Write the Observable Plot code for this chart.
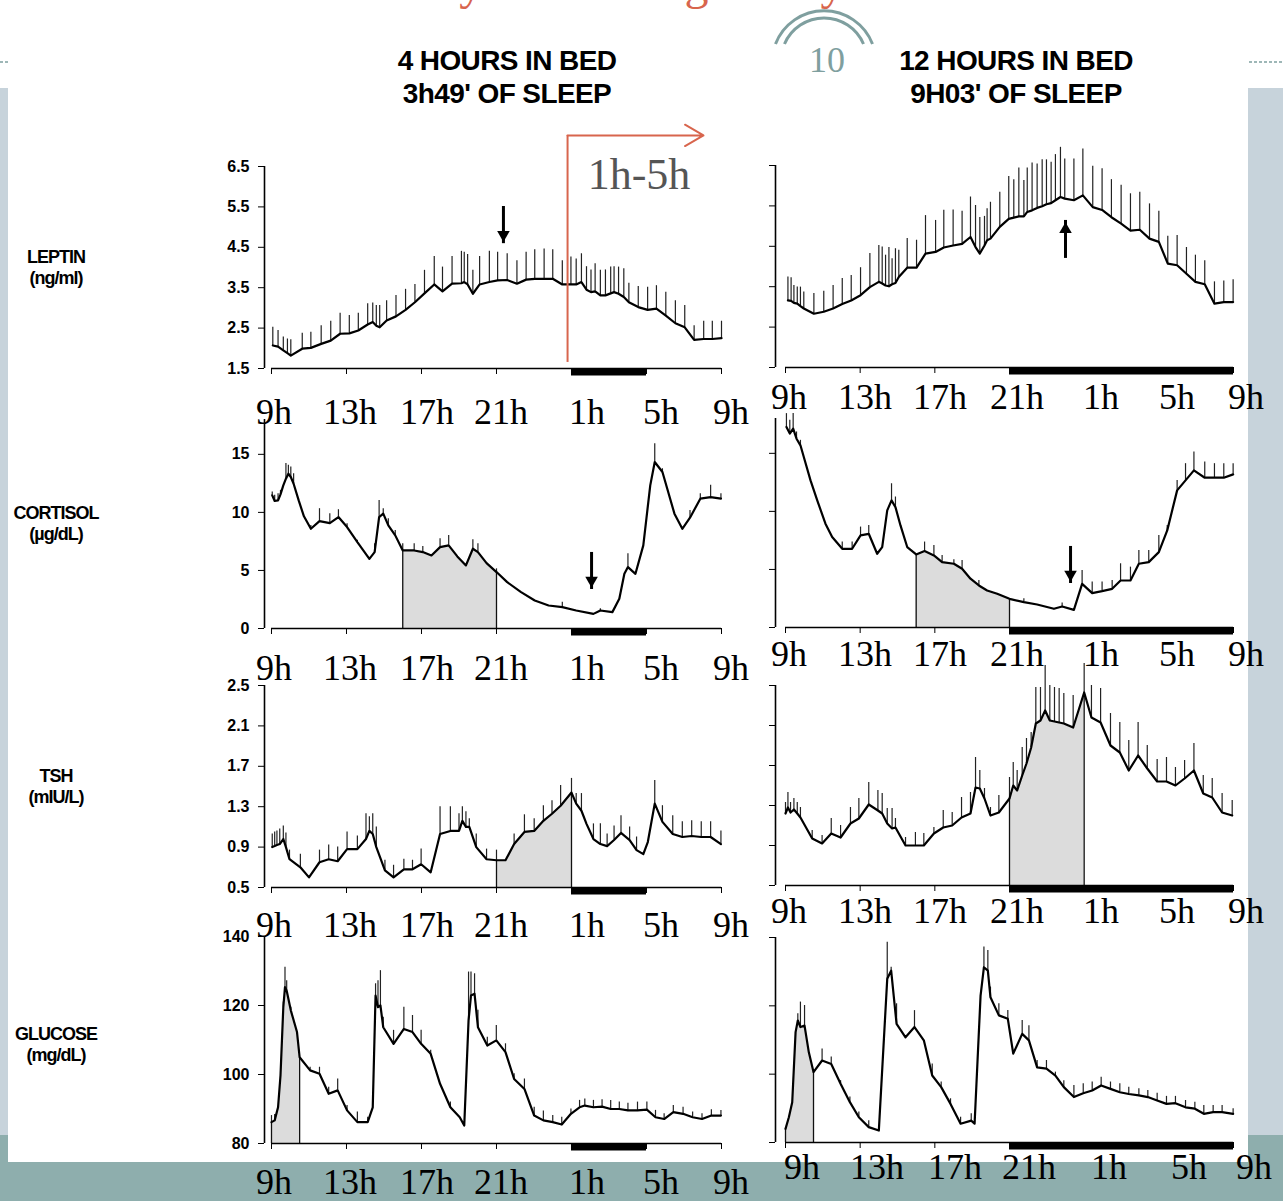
<!DOCTYPE html>
<html><head><meta charset="utf-8">
<script src="https://cdn.jsdelivr.net/npm/d3@7"></script>
<script src="https://cdn.jsdelivr.net/npm/@observablehq/plot@0.6"></script>
<style>
body{margin:0;background:#fff;}
#slide{position:relative;width:1283px;height:1201px;overflow:hidden;background:#fff;font-family:"Liberation Sans",Arial,sans-serif;}
.blk{position:absolute;}
.pw{position:absolute;}
.pw svg{overflow:visible;}
.pw svg text{font-size:16px;font-weight:bold;font-family:"Liberation Sans",Arial,sans-serif;}
.hdr{position:absolute;font-weight:bold;font-size:28px;letter-spacing:-0.6px;text-align:center;width:340px;line-height:33px;transform:translateX(-50%);}
.ylab{position:absolute;width:130px;text-align:center;font-weight:bold;font-size:18px;letter-spacing:-1px;line-height:21px;transform:translate(-50%,-50%);}
.hl{position:absolute;font-family:"Liberation Serif",serif;font-size:36px;transform:translate(-50%,-50%);white-space:nowrap;line-height:40px;color:#000;}
.ann{position:absolute;font-family:"Liberation Serif",serif;font-size:44px;color:#555;transform:translate(-50%,-50%);white-space:nowrap;line-height:48px;}
</style></head>
<body>
<div id="slide"></div>
<script>
// ---------- data ----------
const hourTicks = [0, 4, 8, 12, 16, 20, 24];
const hourLabels = ["9h", "13h", "17h", "21h", "1h", "5h", "9h"];
const headerLeft = ["4 HOURS IN BED", "3h49' OF SLEEP"];
const headerRight = ["12 HOURS IN BED", "9H03' OF SLEEP"];
const hormoneNames = [["LEPTIN", "(ng/ml)"], ["CORTISOL", "(µg/dL)"], ["TSH", "(mIU/L)"], ["GLUCOSE", "(mg/dL)"]];
const leptinTicks = [1.5, 2.5, 3.5, 4.5, 5.5, 6.5];
const cortisolTicks = [0, 5, 10, 15];
const tshTicks = [0.5, 0.9, 1.3, 1.7, 2.1, 2.5];
const glucoseTicks = [80, 100, 120, 140];
const sleep4h = [16, 20];
const sleep12h = [12, 24];
const annotationText = "1h-5h";
const pageNumber = "10";
const slideTitle = "Satiety and the regulatory hormones";

// [hours since 9h, mean, upper error bar]
const leptin4h = [[0.07,2.07,2.52],[0.35,2.04,2.44],[0.63,1.95,2.28],[0.85,1.88,2.23],[1.03,1.82,2.21],[1.64,1.99,2.37],[2.10,2.01,2.40],[2.65,2.11,2.56],[3.16,2.19,2.67],[3.66,2.36,2.87],[4.15,2.37,2.81],[4.63,2.44,2.87],[5.13,2.59,3.10],[5.40,2.65,3.12],[5.59,2.56,3.06],[5.77,2.52,3.06],[6.14,2.69,3.18],[6.64,2.79,3.31],[7.15,2.95,3.46],[7.65,3.14,3.58],[8.16,3.36,3.93],[8.68,3.58,4.27],[9.12,3.41,4.01],[9.63,3.60,4.27],[10.13,3.61,4.40],[10.28,3.64,4.38],[10.46,3.58,4.32],[10.74,3.35,3.93],[11.10,3.58,4.27],[11.62,3.64,4.40],[12.06,3.68,4.38],[12.57,3.69,4.34],[13.09,3.60,4.17],[13.58,3.70,4.38],[14.04,3.72,4.44],[14.54,3.72,4.46],[15.0,3.72,4.44],[15.51,3.58,4.17],[15.97,3.58,4.26],[16.25,3.58,4.21],[16.53,3.64,4.34],[16.80,3.45,4.02],[17.04,3.39,3.94],[17.26,3.41,4.09],[17.54,3.31,3.93],[17.81,3.31,3.94],[18.09,3.36,4.01],[18.27,3.39,4.02],[18.51,3.35,4.01],[18.79,3.27,3.97],[19.06,3.14,3.61],[19.56,3.02,3.53],[20.06,2.95,3.51],[20.53,2.98,3.55],[21.03,2.81,3.39],[21.54,2.62,3.18],[22.04,2.52,3.06],[22.54,2.21,2.56],[23.05,2.23,2.67],[23.51,2.23,2.67],[24.0,2.25,2.67]];
const leptin12h = [[0.13,3.16,3.74],[0.30,3.15,3.72],[0.45,3.10,3.53],[0.63,3.08,3.49],[0.80,3.02,3.49],[0.98,2.96,3.37],[1.52,2.83,3.33],[2.05,2.88,3.39],[2.55,2.96,3.53],[3.04,3.07,3.70],[3.52,3.16,3.78],[4.02,3.29,3.97],[4.52,3.49,4.32],[5.0,3.62,4.52],[5.18,3.58,4.48],[5.36,3.53,4.28],[5.54,3.51,4.47],[5.71,3.56,4.19],[5.89,3.59,4.44],[6.07,3.74,4.40],[6.52,3.97,4.69],[7.02,3.97,4.65],[7.5,4.32,5.26],[8.04,4.36,5.14],[8.48,4.47,5.39],[8.98,4.52,5.40],[9.46,4.56,5.37],[9.91,4.73,5.72],[10.18,4.48,5.51],[10.41,4.32,5.21],[10.66,4.52,5.24],[10.80,4.65,5.43],[10.98,4.69,5.59],[11.48,4.98,5.84],[11.96,5.18,6.23],[12.23,5.21,6.15],[12.5,5.24,6.44],[12.77,5.24,6.13],[12.95,5.35,6.44],[13.21,5.39,6.56],[13.48,5.45,6.54],[13.75,5.49,6.64],[13.98,5.54,6.64],[14.23,5.57,6.58],[14.46,5.64,6.77],[14.73,5.72,6.95],[14.96,5.68,6.66],[15.45,5.64,6.66],[15.93,5.76,6.91],[16.46,5.47,6.48],[16.96,5.40,6.42],[17.46,5.22,6.15],[17.98,5.06,6.01],[18.48,4.89,5.80],[18.98,4.91,5.84],[19.5,4.69,5.55],[20.0,4.61,5.37],[20.48,4.07,4.75],[20.98,4.03,4.77],[21.48,3.82,4.47],[21.96,3.62,4.28],[22.46,3.56,4.14],[22.98,3.08,3.62],[23.48,3.12,3.64],[23.98,3.12,3.67]];
const cortisol4h = [[0.04,11.47,11.75],[0.17,10.98,11.47],[0.35,11.03,11.61],[0.48,11.55,11.9],[0.63,12.33,null],[0.77,12.9,14.2],[0.90,13.33,14.05],[1.03,13.05,13.9],[1.18,12.47,13.33],[1.45,11.03,null],[1.73,9.66,null],[2.10,8.59,8.88],[2.56,9.25,10.32],[3.11,9.08,9.89],[3.57,9.6,10.23],[4.03,8.74,9.02],[4.58,7.44,7.59],[5.22,6.0,null],[5.50,6.58,7.3],[5.74,9.6,11.03],[5.96,9.89,10.32],[6.23,8.88,9.45],[6.60,8.02,8.45],[7.0,6.72,7.3],[7.61,6.72,7.3],[8.07,6.58,7.07],[8.53,6.29,null],[8.99,7.01,7.73],[9.45,7.16,8.02],[9.91,6.21,null],[10.37,5.43,null],[10.74,6.87,7.64],[11.01,6.58,7.3],[11.47,5.63,null],[12.0,4.86,5.14],[12.57,3.99,null],[13.31,3.13,null],[14.04,2.41,null],[14.78,1.98,null],[15.51,1.84,2.27],[16.25,1.55,null],[17.17,1.26,null],[17.54,1.55,1.7],[18.18,1.41,null],[18.55,2.56,null],[18.82,4.71,null],[19.01,5.29,6.44],[19.41,4.71,null],[19.83,7.16,null],[20.2,12.33,null],[20.44,14.34,15.92],[20.85,13.48,13.76],[21.49,9.89,null],[21.91,8.59,null],[22.32,9.54,10.17],[22.87,11.18,11.61],[23.42,11.32,12.33],[23.97,11.18,11.61]];
const cortisol12h = [[0.05,17.27,18.42],[0.23,16.7,17.84],[0.41,17.13,18.42],[0.59,16.26,16.84],[0.80,15.69,16.12],[0.98,14.68,null],[1.34,12.67,null],[1.70,10.95,null],[2.14,8.94,null],[2.50,7.79,null],[3.04,6.78,7.36],[3.57,6.78,7.36],[4.02,7.93,8.65],[4.46,8.07,8.79],[4.91,6.35,null],[5.18,6.93,null],[5.45,10.09,null],[5.68,10.95,12.38],[5.89,10.37,11.24],[6.16,8.79,null],[6.52,6.93,null],[7.0,6.29,null],[7.45,6.58,7.36],[7.95,6.21,7.07],[8.39,5.63,6.21],[9.02,5.49,5.83],[9.46,5.06,5.78],[9.91,4.2,null],[10.36,3.62,4.05],[10.80,3.19,null],[11.34,2.9,null],[12.0,2.47,null],[12.77,2.18,2.47],[13.48,1.98,null],[14.38,1.61,null],[14.82,1.81,2.1],[15.45,1.52,null],[15.89,3.76,4.91],[16.43,2.96,3.91],[16.96,3.13,3.91],[17.5,3.33,4.05],[17.95,4.05,5.49],[18.48,4.05,5.2],[18.93,5.49,6.64],[19.46,5.63,6.64],[20.0,6.49,7.93],[20.45,8.36,8.79],[20.98,11.81,12.67],[21.43,12.67,14.11],[21.88,13.53,15.11],[22.46,12.9,14.25],[22.98,12.9,14.11],[23.48,12.9,14.11],[23.98,13.19,14.11]];
const tsh4h = [[0.04,0.90,1.03],[0.17,0.91,1.05],[0.29,0.92,1.06],[0.44,0.93,1.08],[0.63,0.98,1.11],[0.77,0.90,1.04],[0.96,0.78,0.87],[1.54,0.70,0.83],[2.0,0.60,null],[2.56,0.75,0.87],[3.05,0.78,0.92],[3.53,0.76,0.90],[4.03,0.88,1.05],[4.58,0.88,1.01],[5.04,0.98,1.23],[5.22,1.06,1.20],[5.40,1.03,1.23],[5.59,0.90,1.10],[6.05,0.67,0.77],[6.51,0.60,0.72],[7.06,0.68,0.78],[7.52,0.68,0.77],[7.98,0.73,0.88],[8.49,0.65,null],[8.99,1.03,1.30],[9.54,1.06,1.30],[10.0,1.06,1.23],[10.18,1.16,1.30],[10.37,1.10,1.25],[10.55,1.10,1.18],[10.92,0.90,1.03],[11.47,0.78,0.88],[12.0,0.77,0.87],[12.48,0.77,null],[12.94,0.93,1.03],[13.49,1.05,1.22],[14.01,1.06,1.18],[14.50,1.16,1.31],[14.96,1.23,1.36],[15.42,1.31,1.51],[16.0,1.44,1.58],[16.25,1.33,1.43],[16.53,1.26,1.43],[16.80,1.13,null],[17.17,0.98,1.13],[17.54,0.93,1.13],[17.90,0.91,1.03],[18.27,0.97,1.11],[18.64,1.04,1.21],[19.10,0.97,1.10],[19.47,0.87,1.0],[19.83,0.83,null],[20.07,0.95,null],[20.44,1.33,1.56],[20.85,1.15,1.31],[21.40,1.03,1.21],[21.91,1.0,1.15],[22.41,1.01,1.16],[22.92,1.0,1.15],[23.42,1.0,1.15],[23.97,0.93,1.06]];
const tsh12h = [[0,1.22,1.33],[0.13,1.28,1.43],[0.27,1.23,1.33],[0.45,1.26,1.37],[0.63,1.22,1.33],[0.80,1.18,1.28],[1.43,0.97,1.05],[1.96,0.92,1.0],[2.45,1.02,1.17],[2.95,0.98,1.10],[3.48,1.12,1.28],[3.93,1.17,1.37],[4.46,1.31,1.53],[4.95,1.25,1.45],[5.18,1.22,1.42],[5.45,1.12,1.27],[5.71,1.07,1.27],[5.89,1.08,1.17],[6.43,0.90,0.98],[6.96,0.90,1.03],[7.41,0.90,1.02],[7.95,1.02,1.08],[8.45,1.08,1.25],[8.93,1.10,1.23],[9.43,1.18,1.38],[9.91,1.22,1.43],[10.18,1.48,1.78],[10.41,1.47,1.65],[10.66,1.37,1.47],[10.98,1.20,1.28],[11.43,1.23,1.40],[12.0,1.37,1.58],[12.20,1.50,1.73],[12.41,1.45,1.65],[12.68,1.60,1.88],[12.91,1.72,1.97],[13.16,1.88,2.03],[13.41,2.12,2.48],[13.66,2.15,2.48],[13.91,2.25,2.70],[14.16,2.15,2.50],[14.41,2.14,2.48],[14.66,2.13,2.47],[14.91,2.12,2.42],[15.41,2.08,2.40],[16.0,2.43,2.72],[16.39,2.18,2.50],[16.88,2.13,2.47],[17.41,1.90,2.22],[17.91,1.83,2.13],[18.39,1.65,1.95],[18.89,1.80,2.13],[19.38,1.67,1.90],[19.91,1.54,1.76],[20.41,1.54,1.78],[20.89,1.50,1.68],[21.38,1.57,1.75],[21.88,1.65,1.92],[22.38,1.42,1.60],[22.86,1.38,1.57],[23.39,1.23,1.42],[23.93,1.20,1.35]];
const glucose4h = [[0,86.2,88.1],[0.17,86.7,88.4],[0.35,90.5,null],[0.48,99.7,null],[0.63,119.5,121.0],[0.72,125.3,131.1],[0.81,124.3,127.2],[1.03,118.6,119.5],[1.36,112.3,null],[1.5,105.0,null],[2.06,101.2,102.1],[2.56,100.2,102.1],[3.05,94.4,96.3],[3.53,95.4,98.7],[4.03,89.6,91.0],[4.58,86.2,89.1],[5.13,86.2,87.6],[5.40,90.5,null],[5.55,122.9,126.3],[5.68,119.5,127.2],[5.81,120.0,130.1],[5.96,113.7,116.6],[6.51,108.9,112.8],[7.06,113.2,119.5],[7.52,112.3,117.1],[7.98,108.9,112.8],[8.49,106.0,107.0],[8.99,97.3,null],[9.54,90.5,92.0],[10.04,87.6,null],[10.28,85.2,null],[10.51,115.7,129.7],[10.64,122.9,129.7],[10.83,123.4,129.2],[11.01,113.7,118.6],[11.51,108.4,110.8],[11.99,109.9,114.2],[12.48,106.5,108.9],[12.94,98.7,100.2],[13.49,95.8,98.7],[14.01,88.1,90.5],[14.50,86.7,89.4],[15.0,86.2,88.1],[15.48,85.5,87.6],[15.97,88.6,90.0],[16.43,90.5,92.5],[16.71,91.0,92.9],[17.17,90.5,92.5],[17.63,90.7,92.7],[18.09,90.0,92.5],[18.55,90.0,92.0],[19.01,89.6,91.7],[19.52,89.6,92.0],[20.02,89.8,92.0],[20.48,87.6,89.6],[20.94,87.1,88.6],[21.43,89.1,91.0],[21.95,88.6,90.5],[22.46,87.6,89.1],[22.96,87.1,88.6],[23.46,88.1,89.8],[23.97,88.1,89.6]];
const glucose12h = [[0,84.0,null],[0.18,87.4,null],[0.36,91.8,null],[0.54,112.3,null],[0.66,115.7,117.7],[0.80,113.8,121.1],[1.02,114.2,120.1],[1.25,106.4,null],[1.5,100.6,null],[1.96,104.0,107.4],[2.45,103.0,105.0],[2.95,97.2,98.1],[3.45,91.8,93.3],[3.93,87.4,88.9],[4.46,84.5,86.4],[5.0,83.5,null],[5.45,127.9,138.6],[5.66,130.3,131.3],[5.95,114.7,120.6],[6.43,110.8,null],[6.91,113.8,118.6],[7.41,109.9,null],[7.86,99.6,103.0],[8.34,96.2,97.7],[8.84,91.3,92.8],[9.38,85.5,87.4],[9.95,86.4,88.4],[10.13,85.5,null],[10.45,123.0,null],[10.63,131.3,137.2],[10.84,130.3,136.2],[10.98,122.5,125.5],[11.43,117.2,120.6],[11.91,116.2,118.6],[12.20,106.0,null],[12.68,111.8,115.7],[13.04,109.9,114.2],[13.48,102.0,104.0],[13.98,101.6,104.0],[14.46,99.6,100.6],[14.91,96.2,98.1],[15.45,93.3,96.7],[15.95,94.4,97.2],[16.43,95.2,97.7],[16.91,96.7,99.1],[17.41,95.7,97.7],[17.91,94.7,97.2],[18.39,94.2,96.2],[18.93,93.8,95.7],[19.41,93.3,95.2],[19.91,92.3,94.4],[20.41,91.3,93.5],[20.89,91.5,93.5],[21.43,90.3,92.3],[21.93,89.9,91.8],[22.41,88.4,90.8],[22.91,88.9,90.8],[23.39,88.9,90.8],[23.98,88.4,89.9]];

// arrows: hour, start value, tip value
const leptinArrow4h = {h: 12.37, from: 5.51, to: 4.59};
const leptinArrow12h = {h: 15.0, from: 4.20, to: 5.14};
const cortisolArrow4h = {h: 17.07, from: 6.55, to: 3.36};
const cortisolArrow12h = {h: 15.27, from: 6.98, to: 3.79};
// red annotation (leptin, 4h panel): vertical guide at hour, from/to values, arrow end hour
const redGuide = {h: 15.79, from: 1.65, to: 7.27, end: 23.04};

// ---------- layout ----------
const slide = document.getElementById("slide");
function box(css) { const d = document.createElement("div"); d.className = "blk"; Object.assign(d.style, css); slide.appendChild(d); return d; }
box({left:"0px", top:"1135px", width:"1283px", height:"66px", background:"#8eaead"});
box({left:"0px", top:"88px", width:"8px", height:"1047px", background:"#c7d3db"});
box({left:"1248px", top:"88px", width:"35px", height:"1047px", background:"#c7d3db"});
box({left:"8px", top:"88px", width:"1240px", height:"1074px", background:"#fff"});

// decorations (title, dashes, page number arcs)
const deco = document.createElementNS("http://www.w3.org/2000/svg", "svg");
deco.setAttribute("width", 1283); deco.setAttribute("height", 120);
deco.style.position = "absolute"; deco.style.left = "0"; deco.style.top = "0";
deco.innerHTML = `
 <line x1="0" y1="62" x2="9" y2="62" stroke="#7fa0a0" stroke-width="1.6" stroke-dasharray="3 2"/>
 <line x1="1249" y1="62" x2="1283" y2="62" stroke="#7fa0a0" stroke-width="1.6" stroke-dasharray="3 2"/>
 <path d="M775.5 44 A52 52 0 0 1 872.5 44" fill="none" stroke="#7f9f9f" stroke-width="3"/>
 <path d="M784.5 44 A43 43 0 0 1 863.5 44" fill="none" stroke="#7f9f9f" stroke-width="3"/>
 <text x="350" y="-1" font-family="Liberation Serif" font-size="48" fill="#d8654d">${slideTitle}</text>
 <text x="827" y="72" text-anchor="middle" font-family="Liberation Serif" font-size="36" fill="#7f9f9f">${pageNumber}</text>`;
slide.appendChild(deco);

function hdr(lines, cx) {
  lines.forEach((t, i) => { const d = document.createElement("div"); d.className = "hdr"; d.textContent = t;
    d.style.left = cx + "px"; d.style.top = (44 + i * 33) + "px"; slide.appendChild(d); });
}
hdr(headerLeft, 507); hdr(headerRight, 1016);

const nameY = [268, 524, 787, 1045];
hormoneNames.forEach((n, i) => { const d = document.createElement("div"); d.className = "ylab";
  d.innerHTML = n[0] + "<br>" + n[1]; d.style.left = "56px"; d.style.top = nameY[i] + "px"; slide.appendChild(d); });

const geo = {
  L: {left: 200, width: 540, ml: 64, mr: 19, xmin: -0.373},
  R: {left: 740, width: 520, ml: 35, mr: 27, xmin: -0.536}
};
const fmt1 = d => d.toFixed(1), fmt0 = d => String(d), none = () => "";
const panels = [
  {col:"L", data: leptin4h, dom:[1.5,6.5], ticks: leptinTicks, fmt: fmt1, yTop:166, yBot:368, sleep: sleep4h, arrows:[leptinArrow4h], red: true},
  {col:"R", data: leptin12h, dom:[1.5,6.5], ticks: leptinTicks, fmt: none, yTop:165, yBot:367, sleep: sleep12h, arrows:[leptinArrow12h]},
  {col:"L", data: cortisol4h, dom:[0,18], ticks: cortisolTicks, fmt: fmt0, yTop:419, yBot:628, sleep: sleep4h, shade:[7,12], arrows:[cortisolArrow4h]},
  {col:"R", data: cortisol12h, dom:[0,18], ticks: cortisolTicks, fmt: none, yTop:418, yBot:627, sleep: sleep12h, shade:[7,12], arrows:[cortisolArrow12h]},
  {col:"L", data: tsh4h, dom:[0.5,2.5], ticks: tshTicks, fmt: fmt1, yTop:685, yBot:887, sleep: sleep4h, shade:[12,16]},
  {col:"R", data: tsh12h, dom:[0.5,2.5], ticks: tshTicks, fmt: none, yTop:685, yBot:885, sleep: sleep12h, shade:[12,16]},
  {col:"L", data: glucose4h, dom:[80,140], ticks: glucoseTicks, fmt: fmt0, yTop:936, yBot:1143, sleep: sleep4h, shade:[0,1.5]},
  {col:"R", data: glucose12h, dom:[80,140], ticks: glucoseTicks, fmt: none, yTop:937, yBot:1142, sleep: sleep12h, shade:[0,1.5]}
];

const X = d => d[0], Y = d => d[1];
panels.forEach(p => {
  const g = geo[p.col];
  const [ymin, ymax] = p.dom;
  const mt = 40, mb = 20;
  const height = mt + (p.yBot - p.yTop) + mb;
  const marks = [];
  if (p.shade) {
    const [a, b] = p.shade;
    marks.push(Plot.areaY(p.data.filter(d => d[0] >= a && d[0] <= b), {x: X, y1: ymin, y2: Y, fill: "#dcdcdc"}));
    marks.push(Plot.ruleX(p.data.filter(d => d[0] === a || d[0] === b), {x: X, y1: ymin, y2: Y, stroke: "#111", strokeWidth: 1.3}));
  }
  marks.push(Plot.ruleX(p.data.filter(d => d[2] != null), {x: X, y1: Y, y2: d => d[2], stroke: "#222", strokeWidth: 1.2}));
  marks.push(Plot.line(p.data, {x: X, y: Y, stroke: "#000", strokeWidth: 2.2, strokeLinejoin: "round"}));
  marks.push(Plot.ruleX([g.xmin], {y1: ymin, y2: ymax, stroke: "#000", strokeWidth: 1.6}));
  marks.push(Plot.ruleY([ymin], {x1: 0, x2: 24, stroke: "#000", strokeWidth: 1.6}));
  marks.push(Plot.ruleY([ymin], {x1: p.sleep[0], x2: p.sleep[1], stroke: "#000", strokeWidth: 7, dy: 3.5}));
  if (p.arrows) {
    const down = p.arrows.filter(a => a.from > a.to), up = p.arrows.filter(a => a.from < a.to);
    marks.push(Plot.ruleX(p.arrows, {x: "h", y1: "from", y2: "to", stroke: "#000", strokeWidth: 3}));
    marks.push(Plot.dot(down, {x: "h", y: "to", symbol: "triangle2", r: 6, fill: "#000", stroke: "none", rotate: 180, dy: -9}));
    marks.push(Plot.dot(up, {x: "h", y: "to", symbol: "triangle2", r: 6, fill: "#000", stroke: "none", dy: 9}));
  }
  if (p.red) {
    marks.push(Plot.ruleX([redGuide], {x: "h", y1: "from", y2: "to", stroke: "#d8654d", strokeWidth: 2}));
    marks.push(Plot.arrow([redGuide], {x1: "h", x2: "end", y1: "to", y2: "to", stroke: "#d8654d", strokeWidth: 2, headLength: 16}));
  }
  const chart = Plot.plot({
    width: g.width, height,
    marginLeft: g.ml, marginRight: g.mr, marginTop: mt, marginBottom: mb,
    style: {background: "transparent", overflow: "visible", fontFamily: "Liberation Sans, Arial, sans-serif", fontSize: "16px", fontWeight: "bold", color: "#000"},
    x: {domain: [g.xmin, 24], ticks: hourTicks, tickSize: 6, tickFormat: none, label: null},
    y: {domain: p.dom, ticks: p.ticks, tickSize: 6, tickPadding: 9, tickFormat: p.fmt, label: null},
    marks
  });
  const w = document.createElement("div"); w.className = "pw";
  w.style.left = g.left + "px"; w.style.top = (p.yTop - mt) + "px"; w.style.width = g.width + "px";
  w.appendChild(chart); slide.appendChild(w);
});

// "1h-5h" annotation beside the red guide
const ann = document.createElement("div"); ann.className = "ann"; ann.textContent = annotationText;
ann.style.left = "639px"; ann.style.top = "175px"; slide.appendChild(ann);

// hour labels overlaid on the slide
const leftLabelX = [274, 350, 427, 501, 587, 661, 731];
const rightLabelX = [789, 865, 940, 1017, 1101, 1177, 1246];
const rightLastLabelX = [802, 877, 955, 1029, 1109, 1189, 1254];
const leftRowY = [412, 668, 925, 1182];
const rightRowY = [397, 654, 911, 1167];
function labelRow(xs, y) {
  hourLabels.forEach((t, i) => { const d = document.createElement("div"); d.className = "hl"; d.textContent = t;
    d.style.left = xs[i] + "px"; d.style.top = y + "px"; slide.appendChild(d); });
}
leftRowY.forEach(y => labelRow(leftLabelX, y));
rightRowY.forEach((y, i) => labelRow(i === 3 ? rightLastLabelX : rightLabelX, y));
</script>
</body></html>
